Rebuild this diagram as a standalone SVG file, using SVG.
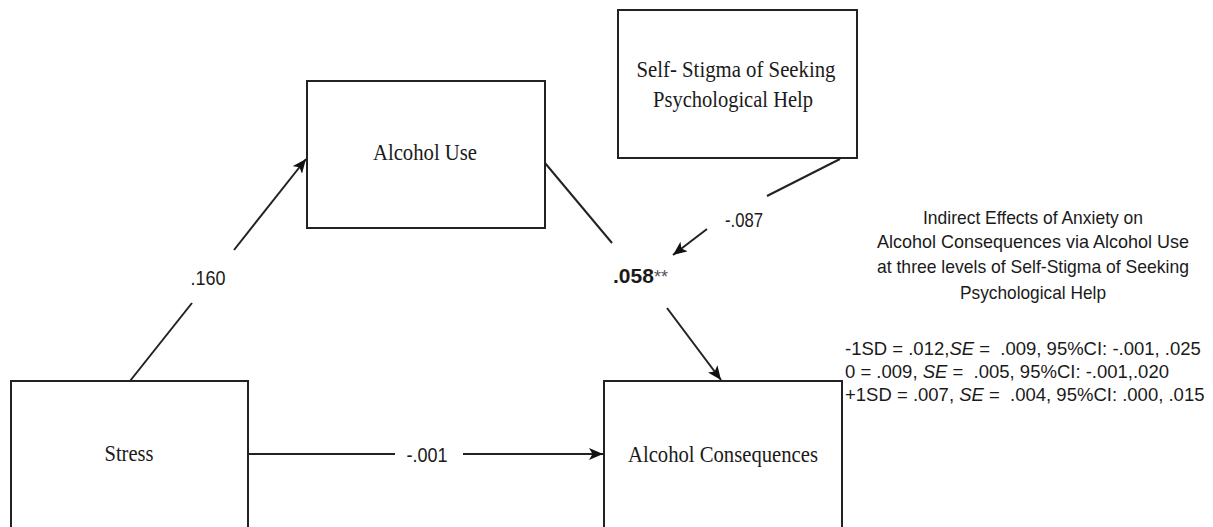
<svg xmlns="http://www.w3.org/2000/svg" width="1213" height="527" viewBox="0 0 1213 527">
<style>
.box{fill:#fff;stroke:#222;stroke-width:2}
.node{font-family:"Liberation Serif","Times New Roman",serif;font-size:24px;fill:#1a1a1a;text-anchor:middle}
.lbl{font-family:"Liberation Sans",Arial,sans-serif;font-size:21px;fill:#1a1a1a;text-anchor:middle}
.note{font-family:"Liberation Sans",Arial,sans-serif;font-size:19px;fill:#1a1a1a;text-anchor:middle}
.stat{font-family:"Liberation Sans",Arial,sans-serif;font-size:18.5px;fill:#1a1a1a}
.edge{stroke:#222;stroke-width:2;fill:none}
</style>
<defs>
<marker id="ah" markerUnits="userSpaceOnUse" markerWidth="15" markerHeight="12" refX="14" refY="6" orient="auto">
<path d="M0,0 L14,6 L0,12 L3.5,6 z" fill="#111"/>
</marker>
</defs>
<rect width="1213" height="527" fill="#fff"/>
<g id="connectors">
<line class="edge" x1="130" y1="381" x2="192" y2="303"/>
<line class="edge" x1="234" y1="250" x2="306" y2="159" marker-end="url(#ah)"/>
<line class="edge" x1="545" y1="163" x2="612" y2="243"/>
<line class="edge" x1="667" y1="308" x2="721" y2="380" marker-end="url(#ah)"/>
<line class="edge" x1="840" y1="159" x2="767" y2="196"/>
<line class="edge" x1="707" y1="229" x2="673" y2="255" marker-end="url(#ah)"/>
<line class="edge" x1="248" y1="454" x2="395" y2="454"/>
<line class="edge" x1="463" y1="454" x2="603" y2="454" marker-end="url(#ah)"/>
<text class="lbl" x="208" y="285" textLength="35" lengthAdjust="spacingAndGlyphs">.160</text>
<text class="lbl" x="613" y="283" style="text-anchor:start"><tspan font-weight="bold">.058</tspan><tspan fill="#555" font-size="18">**</tspan></text>
<text class="lbl" x="744" y="227" textLength="38" lengthAdjust="spacingAndGlyphs">-.087</text>
<text class="lbl" x="427" y="462" textLength="41" lengthAdjust="spacingAndGlyphs">-.001</text>
</g>
<g id="self-stigma">
<rect class="box" x="618" y="10" width="239" height="148"/>
<text class="node" x="736" y="77" textLength="199" lengthAdjust="spacingAndGlyphs">Self- Stigma of Seeking</text>
<text class="node" x="733" y="107" textLength="160" lengthAdjust="spacingAndGlyphs">Psychological Help</text>
</g>
<g id="alcohol-use">
<rect class="box" x="307" y="81" width="238" height="147"/>
<text class="node" x="425" y="160" textLength="104" lengthAdjust="spacingAndGlyphs">Alcohol Use</text>
</g>
<g id="stress">
<rect class="box" x="11" y="381" width="237" height="180"/>
<text class="node" x="129" y="461" textLength="49" lengthAdjust="spacingAndGlyphs">Stress</text>
</g>
<g id="alcohol-consequences">
<rect class="box" x="604" y="381" width="238" height="180"/>
<text class="node" x="723" y="462" textLength="190" lengthAdjust="spacingAndGlyphs">Alcohol Consequences</text>
</g>
<g id="indirect-effects">
<text class="note" x="1033" y="224" textLength="220" lengthAdjust="spacingAndGlyphs">Indirect Effects of Anxiety on</text>
<text class="note" x="1033" y="248" textLength="312" lengthAdjust="spacingAndGlyphs">Alcohol Consequences via Alcohol Use</text>
<text class="note" x="1033" y="273" textLength="312" lengthAdjust="spacingAndGlyphs">at three levels of Self-Stigma of Seeking</text>
<text class="note" x="1033" y="299" textLength="146" lengthAdjust="spacingAndGlyphs">Psychological Help</text>
<text class="stat" x="845" y="355" xml:space="preserve">-1SD = .012,<tspan font-style="italic">SE</tspan> =  .009, 95%CI: -.001, .025</text>
<text class="stat" x="845" y="378" xml:space="preserve">0 = .009, <tspan font-style="italic">SE</tspan> =  .005, 95%CI: -.001,.020</text>
<text class="stat" x="845" y="401" xml:space="preserve">+1SD = .007, <tspan font-style="italic">SE</tspan> =  .004, 95%CI: .000, .015</text>
</g>
</svg>
